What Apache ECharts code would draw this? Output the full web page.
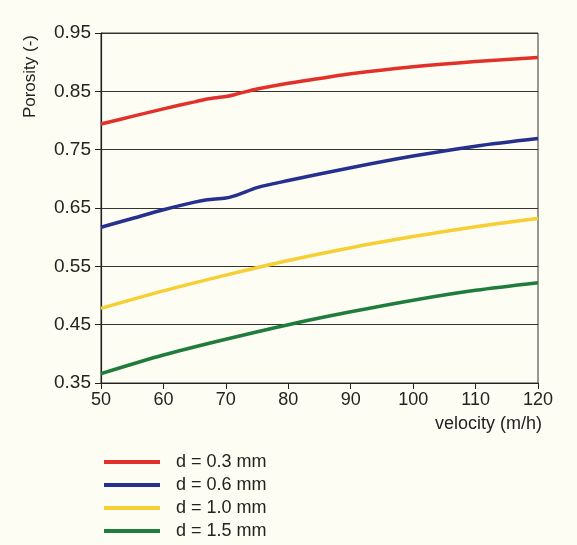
<!DOCTYPE html>
<html>
<head>
<meta charset="utf-8">
<script src="https://cdn.jsdelivr.net/npm/echarts@6/dist/echarts.min.js"></script>
<style>
  html, body { margin: 0; padding: 0; background: #fdfdf4; }
  #chart { width: 577px; height: 545px; }
</style>
</head>
<body>
<div id="chart"></div>
<script>
// data
var seriesNames = ['d = 0.3 mm', 'd = 0.6 mm', 'd = 1.0 mm', 'd = 1.5 mm'];
var seriesColors = ['#e2312a', '#26308f', '#f5cf33', '#1f7c3d'];

var d03 = [[50, 0.794], [55, 0.807], [60, 0.820], [65, 0.832], [67, 0.837], [70, 0.841], [72, 0.846],
           [75, 0.854], [80, 0.864], [85, 0.872], [90, 0.880], [100, 0.892], [110, 0.901], [120, 0.908]];
var d06 = [[50, 0.617], [55, 0.632], [60, 0.647], [65, 0.660], [67, 0.664], [70, 0.667], [72, 0.673],
           [75, 0.685], [80, 0.697], [90, 0.719], [100, 0.739], [110, 0.756], [120, 0.769]];
var d10 = [[50, 0.478], [60, 0.508], [70, 0.535], [80, 0.560], [90, 0.582], [100, 0.601], [110, 0.618], [120, 0.632]];
var d15 = [[50, 0.366], [60, 0.398], [70, 0.425], [80, 0.450], [90, 0.472], [100, 0.492], [110, 0.509], [120, 0.522]];

var allData = [d03, d06, d10, d15];

var font = 'Liberation Sans, Arial, sans-serif';

var series = [];
for (var i = 0; i < allData.length; i++) {
    series.push({
        name: seriesNames[i],
        type: 'line',
        data: allData[i],
        smooth: 0.3,
        showSymbol: false,
        lineStyle: { color: seriesColors[i], width: 3.5 },
        itemStyle: { color: seriesColors[i] }
    });
}

var option = {
    backgroundColor: '#fdfdf4',
    animation: false,
    grid: {
        left: 101, right: 39, top: 33, bottom: 162,
        show: true, borderColor: '#333', borderWidth: 1
    },
    legend: {
        orient: 'vertical',
        left: 99, top: 448, height: 95,
        icon: 'rect',
        itemWidth: 56, itemHeight: 4,
        itemGap: 5,
        textStyle: { fontFamily: font, fontSize: 18, color: '#222', padding: [0, 0, 0, 11] },
        data: seriesNames
    },
    xAxis: {
        type: 'value',
        min: 50, max: 120, interval: 10,
        axisLine: { lineStyle: { color: '#222', width: 1.2 } },
        axisTick: { show: true, length: 6, lineStyle: { color: '#222' } },
        axisLabel: { fontFamily: font, fontSize: 18, color: '#222', margin: 8 },
        splitLine: { show: false }
    },
    yAxis: {
        type: 'value',
        min: 0.35, max: 0.95, interval: 0.1,
        axisLine: { show: true, lineStyle: { color: '#222', width: 1.2 } },
        axisTick: { show: true, length: 6, lineStyle: { color: '#222' } },
        axisLabel: {
            fontFamily: font, fontSize: 19, color: '#222', margin: 10,
            formatter: function (v) { return v.toFixed(2); }
        },
        splitLine: { show: true, lineStyle: { color: '#333', width: 1 } }
    },
    graphic: [
        {
            type: 'text', left: 22, top: 35, rotation: Math.PI / 2,
            style: { text: 'Porosity (-)', font: '17px ' + font, fill: '#222' }
        },
        {
            type: 'text', left: 435, top: 415,
            style: { text: 'velocity (m/h)', font: '18px ' + font, fill: '#222' }
        }
    ],
    series: series
};

var myChart = echarts.init(document.getElementById('chart'));
myChart.setOption(option);
</script>
</body>
</html>
